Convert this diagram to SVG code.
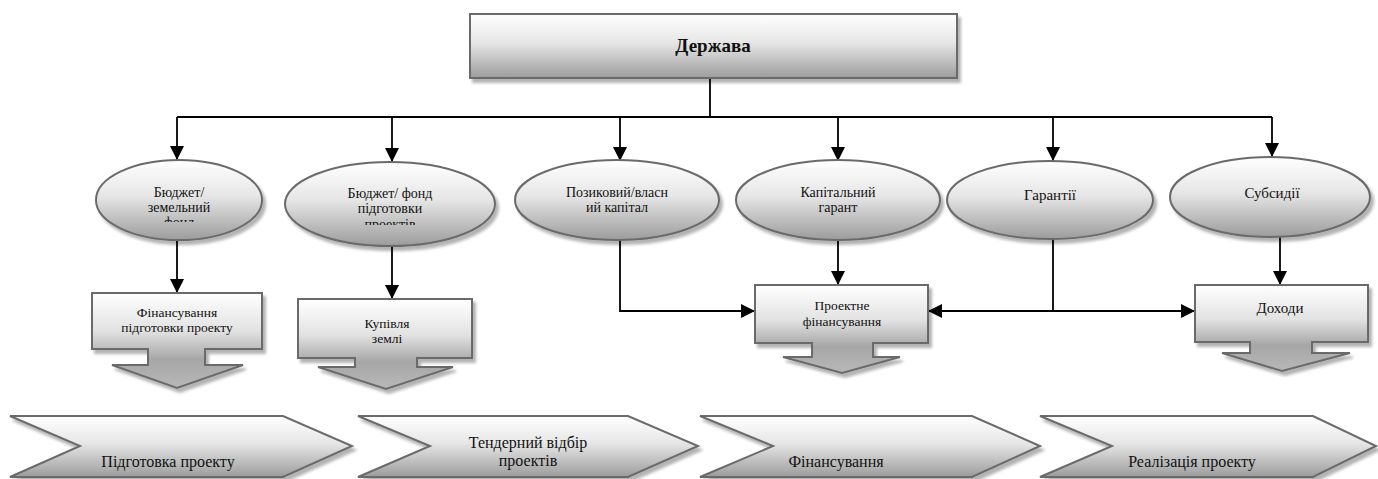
<svg xmlns="http://www.w3.org/2000/svg" width="1378" height="479" viewBox="0 0 1378 479" font-family="Liberation Serif, DejaVu Serif, Times New Roman, serif">
<style>
.t{fill:#111;text-anchor:middle}
.shape{stroke:#6b6b6b;stroke-width:2;filter:url(#sh)}
.con{stroke:#000;stroke-width:1.8;fill:none}
</style>
<defs>
<linearGradient id="g" x1="0" y1="0" x2="0" y2="1">
<stop offset="0" stop-color="#ffffff"/>
<stop offset="0.45" stop-color="#e6e6e6"/>
<stop offset="1" stop-color="#9c9c9c"/>
</linearGradient>
<linearGradient id="gc" x1="0" y1="0" x2="0" y2="1">
<stop offset="0" stop-color="#ffffff"/>
<stop offset="0.4" stop-color="#e2e2e2"/>
<stop offset="0.7" stop-color="#a6a6a6"/>
<stop offset="1" stop-color="#b8b8b8"/>
</linearGradient>
<filter id="sh" x="-10%" y="-10%" width="130%" height="140%">
<feGaussianBlur in="SourceAlpha" stdDeviation="1.5"/>
<feOffset dx="3" dy="4" result="b"/>
<feComponentTransfer><feFuncA type="linear" slope="0.3"/></feComponentTransfer>
<feMerge><feMergeNode/><feMergeNode in="SourceGraphic"/></feMerge>
</filter>
<marker id="ah" viewBox="0 0 14 14" refX="14" refY="7" markerWidth="14" markerHeight="14" markerUnits="userSpaceOnUse" orient="auto">
<path d="M0,0 L14,7 L0,14 z" fill="#000"/>
</marker>
<clipPath id="c1"><rect x="90" y="150" width="180" height="72"/></clipPath>
<clipPath id="c2"><rect x="280" y="150" width="220" height="75"/></clipPath>
</defs>
<rect width="1378" height="479" fill="#fff"/>

<g id="connectors">
<path class="con" d="M710,78 V117 M177,117 H1272"/>
<path class="con" marker-end="url(#ah)" d="M177,117 V160"/>
<path class="con" marker-end="url(#ah)" d="M392,117 V162"/>
<path class="con" marker-end="url(#ah)" d="M620,117 V161"/>
<path class="con" marker-end="url(#ah)" d="M838,117 V161"/>
<path class="con" marker-end="url(#ah)" d="M1053,117 V161"/>
<path class="con" marker-end="url(#ah)" d="M1272,117 V157"/>
<path class="con" marker-end="url(#ah)" d="M177,240 V293"/>
<path class="con" marker-end="url(#ah)" d="M392,247 V299"/>
<path class="con" marker-end="url(#ah)" d="M620,240 V311 H755"/>
<path class="con" marker-end="url(#ah)" d="M838,240 V285"/>
<path class="con" marker-end="url(#ah)" d="M1053,239 V311 H928"/>
<path class="con" marker-end="url(#ah)" d="M1053,311 H1195"/>
<path class="con" marker-end="url(#ah)" d="M1280,237 V285"/>
</g>

<g id="derzhava">
<rect class="shape" x="470" y="14" width="487" height="64" fill="url(#g)"/>
<text class="t" x="713" y="52" font-size="19" font-weight="bold">Держава</text>
</g>

<g id="e1">
<ellipse class="shape" cx="179" cy="200" rx="83" ry="40" fill="url(#g)"/>
<g clip-path="url(#c1)">
<text class="t" x="179" y="197" font-size="14">Бюджет/</text>
<text class="t" x="179" y="212" font-size="14">земельний</text>
<text class="t" x="179" y="227" font-size="14">фонд</text>
</g>
</g>
<g id="e2">
<ellipse class="shape" cx="390" cy="204" rx="105" ry="42" fill="url(#g)"/>
<g clip-path="url(#c2)">
<text class="t" x="390" y="198" font-size="14">Бюджет/ фонд</text>
<text class="t" x="390" y="213" font-size="14">підготовки</text>
<text class="t" x="390" y="229" font-size="14">проектів</text>
</g>
</g>
<g id="e3">
<ellipse class="shape" cx="617" cy="200" rx="102" ry="40" fill="url(#g)"/>
<text class="t" x="617" y="197" font-size="14">Позиковий/власн</text>
<text class="t" x="617" y="212" font-size="14">ий капітал</text>
</g>
<g id="e4">
<ellipse class="shape" cx="838" cy="200" rx="102" ry="40" fill="url(#g)"/>
<text class="t" x="838" y="197" font-size="14">Капітальний</text>
<text class="t" x="838" y="212" font-size="14">гарант</text>
</g>
<g id="e5">
<ellipse class="shape" cx="1050" cy="200" rx="103" ry="39" fill="url(#g)"/>
<text class="t" x="1050" y="200" font-size="15">Гарантії</text>
</g>
<g id="e6">
<ellipse class="shape" cx="1270" cy="197" rx="100" ry="40" fill="url(#g)"/>
<text class="t" x="1272" y="198" font-size="15">Субсидії</text>
</g>

<g id="b1">
<path class="shape" fill="url(#gc)" d="M92,293 H262 V349 H205 V365 H243 L177,388 L112,365 H148 V349 H92 Z"/>
<text class="t" x="177" y="317" font-size="13.5">Фінансування</text>
<text class="t" x="177" y="332" font-size="13.5">підготовки проекту</text>
</g>
<g id="b2">
<path class="shape" fill="url(#gc)" d="M298,299 H472 V358 H417 V367 H453 L386,389 L318,367 H355 V358 H298 Z"/>
<text class="t" x="387" y="328" font-size="13.5">Купівля</text>
<text class="t" x="387" y="343" font-size="13.5">землі</text>
</g>
<g id="b3">
<path class="shape" fill="url(#gc)" d="M755,285 H928 V343 H873 V357 H900 L842,373 L783,357 H812 V343 H755 Z"/>
<text class="t" x="842" y="310" font-size="13.5">Проектне</text>
<text class="t" x="842" y="326" font-size="13.5">фінансування</text>
</g>
<g id="b4">
<path class="shape" fill="url(#gc)" d="M1195,285 H1368 V342 H1312 V353 H1350 L1282,371 L1222,353 H1250 V342 H1195 Z"/>
<text class="t" x="1280" y="313" font-size="15">Доходи</text>
</g>

<g id="s1">
<path class="shape" fill="url(#g)" d="M10,416 H283 L352,446 L283,477 H10 L80,446 Z"/>
<text class="t" x="168" y="467" font-size="16">Підготовка проекту</text>
</g>
<g id="s2">
<path class="shape" fill="url(#g)" d="M358,416 H628 L698,446 L628,477 H358 L430,446 Z"/>
<text class="t" x="528" y="448" font-size="16">Тендерний відбір</text>
<text class="t" x="528" y="466" font-size="16">проектів</text>
</g>
<g id="s3">
<path class="shape" fill="url(#g)" d="M700,416 H972 L1040,446 L972,477 H700 L773,446 Z"/>
<text class="t" x="836" y="467" font-size="16">Фінансування</text>
</g>
<g id="s4">
<path class="shape" fill="url(#g)" d="M1040,416 H1313 L1376,446 L1313,477 H1040 L1112,446 Z"/>
<text class="t" x="1192" y="467" font-size="16">Реалізація проекту</text>
</g>
</svg>
